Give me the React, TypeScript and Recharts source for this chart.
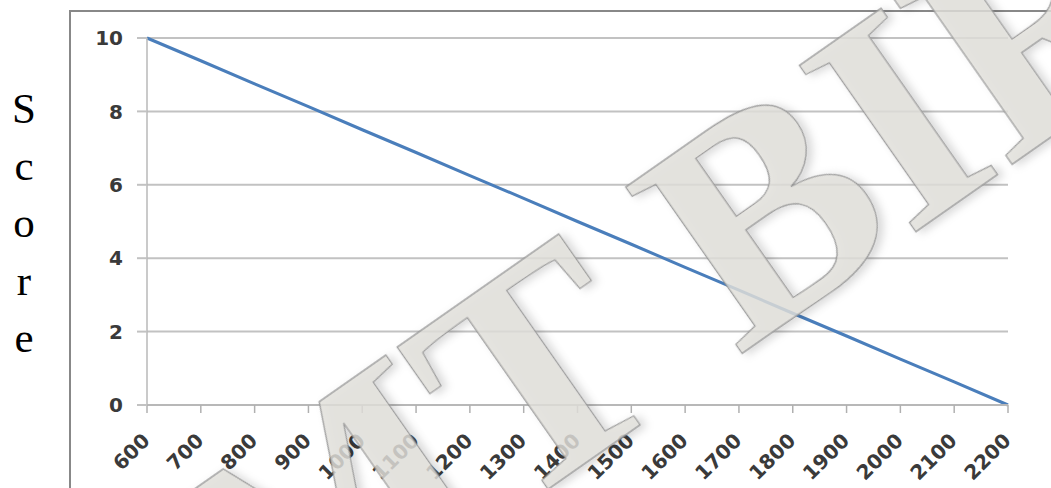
import { CartesianGrid, Line, LineChart, XAxis, YAxis } from 'recharts';

// values
const xValues = [600, 700, 800, 900, 1000, 1100, 1200, 1300, 1400, 1500, 1600, 1700, 1800, 1900, 2000, 2100, 2200];
const scores = [10, 9.38, 8.75, 8.13, 7.5, 6.88, 6.25, 5.63, 5, 4.38, 3.75, 3.13, 2.5, 1.88, 1.25, 0.63, 0];
const yTicks = [0, 2, 4, 6, 8, 10];
const sideLetters = ['S', 'c', 'o', 'r', 'e'];
const watermark = 'MT BIR';

const data = xValues.map((x, i) => ({ x, score: scores[i] }));

const W = 1051;
const H = 488;

const XTick = (props: any) => {
  const { x, y, payload } = props;
  const px = x + 4;
  const py = y + 29;
  return (
    <text
      x={px}
      y={py}
      textAnchor="end"
      transform={`rotate(-45, ${px}, ${py})`}
      fontFamily="DejaVu Sans"
      fontWeight="bold"
      fontSize={20}
      fill="#3a3a3a"
    >
      {payload.value}
    </text>
  );
};

export default function App() {
  return (
    <div style={{ position: 'fixed', left: 0, top: 0, width: W, height: H, overflow: 'hidden', background: '#fff' }}>
      <div
        style={{
          position: 'absolute',
          left: 69,
          top: 10,
          width: 1100,
          height: 600,
          border: '2px solid #888',
          boxSizing: 'border-box',
        }}
      />
      <svg width={W} height={H} style={{ position: 'absolute', left: 0, top: 0 }}>
        {sideLetters.map((ch, i) => (
          <text
            key={ch}
            x={24}
            y={123 + i * 57.2}
            textAnchor="middle"
            fontFamily="Liberation Serif"
            fontSize={43}
            fill="#000"
          >
            {ch}
          </text>
        ))}
      </svg>
      <div style={{ position: 'absolute', left: 0, top: 0 }}>
        <LineChart width={W} height={H} data={data} margin={{ top: 38, right: 43, bottom: 13, left: 87 }}>
          <CartesianGrid vertical={false} stroke="#c2c2c2" strokeWidth={2} />
          <XAxis
            dataKey="x"
            type="number"
            domain={[600, 2200]}
            ticks={xValues}
            interval={0}
            height={70}
            tickSize={8}
            tickMargin={0}
            axisLine={{ stroke: '#b8b8b8', strokeWidth: 2 }}
            tickLine={{ stroke: '#b0b0b0', strokeWidth: 1.5 }}
            tick={<XTick />}
          />
          <YAxis
            domain={[0, 10]}
            ticks={yTicks}
            width={60}
            tickSize={10}
            tickMargin={14}
            axisLine={{ stroke: '#b8b8b8', strokeWidth: 1.5 }}
            tickLine={{ stroke: '#c2c2c2', strokeWidth: 2 }}
            tick={{ fontFamily: 'DejaVu Sans', fontWeight: 'bold', fontSize: 20, fill: '#3a3a3a' }}
          />
          <Line
            type="linear"
            dataKey="score"
            stroke="#4a7ebb"
            strokeWidth={3}
            dot={false}
            isAnimationActive={false}
          />
        </LineChart>
      </div>
      <svg width={W} height={H} style={{ position: 'absolute', left: 0, top: 0, pointerEvents: 'none' }}>
        <defs>
          <filter id="wmShadow" x="-20%" y="-20%" width="140%" height="140%">
            <feDropShadow dx={4} dy={4} stdDeviation={4} floodColor="#000" floodOpacity={0.18} />
          </filter>
        </defs>
        <g transform="translate(270, 684) rotate(-35)" filter="url(#wmShadow)">
          <text
            x={0}
            y={0}
            fontFamily="Liberation Serif"
            fontWeight="bold"
            fontSize={310}
            fill="#e0dfdb"
            fillOpacity={0.82}
            stroke="#929292"
            strokeWidth={1.3}
            strokeOpacity={0.85}
          >
            {watermark}
          </text>
        </g>
      </svg>
    </div>
  );
}
